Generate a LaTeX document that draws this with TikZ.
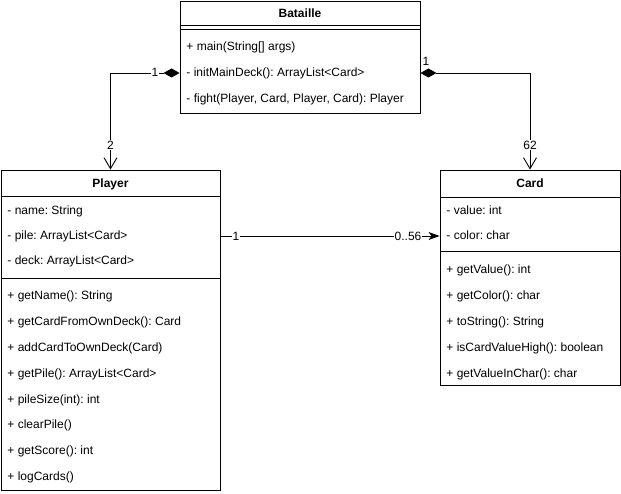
\documentclass[tikz,border=0pt]{standalone}
\usepackage{fontspec}
\setmainfont{Liberation Sans}
\usetikzlibrary{arrows.meta}
\frenchspacing
\begin{document}
\begin{tikzpicture}[x=1pt,y=-1pt,line width=0.9pt,
  box/.style={draw,fill=white,inner sep=0pt},
  txt/.style={anchor=base west,inner sep=0pt,font=\fontsize{12}{14}\selectfont},
  ttl/.style={anchor=base,inner sep=0pt,font=\fontsize{12}{14}\selectfont\bfseries},
  lbl/.style={inner sep=1pt,fill=white,font=\fontsize{12}{14}\selectfont},
  comp/.style={{Diamond[length=16pt,width=9pt]}-{Straight Barb[length=11pt,width=13pt]}},
  assoc/.style={-{Stealth[length=11pt,width=8pt,inset=3pt]}}]
\useasboundingbox (0,0) rectangle (621,494);
% Bataille
\node[box,minimum width=240pt,minimum height=112pt] (bat) at (300,57) {};
\node[ttl] (batT) at (300,17.5) {Bataille};
\draw (bat.west |- 0,25) -- (bat.east |- 0,25);
\draw (bat.west |- 0,29) -- (bat.east |- 0,29);
\node[txt] (b1) at (186,51) {+ main(String[] args)};
\node[txt] (b2) at (186,77) {- initMainDeck(): ArrayList<Card>};
\node[txt] (b3) at (186,103) {- fight(Player, Card, Player, Card): Player};
% Player
\node[box,minimum width=219pt,minimum height=320pt] (pl) at (110.5,330) {};
\node[ttl] (plT) at (110.5,188) {Player};
\draw (pl.west |- 0,196) -- (pl.east |- 0,196);
\draw (pl.west |- 0,278) -- (pl.east |- 0,278);
\node[txt] (p1) at (7,215) {- name: String};
\node[txt] (p2) at (7,240) {- pile: ArrayList<Card>};
\node[txt] (p3) at (7,265) {- deck: ArrayList<Card>};
\node[txt] (p4) at (7,300) {+ getName(): String};
\node[txt] (p5) at (7,326) {+ getCardFromOwnDeck(): Card};
\node[txt] (p6) at (7,351) {+ addCardToOwnDeck(Card)};
\node[txt] (p7) at (7,377) {+ getPile(): ArrayList<Card>};
\node[txt] (p8) at (7,403) {+ pileSize(int): int};
\node[txt] (p9) at (7,428) {+ clearPile()};
\node[txt] (p10) at (7,454) {+ getScore(): int};
\node[txt] (p11) at (7,480) {+ logCards()};
% Card
\node[box,minimum width=180pt,minimum height=215pt] (cd) at (530,277.5) {};
\node[ttl] (cdT) at (530,188) {Card};
\draw (cd.west |- 0,197) -- (cd.east |- 0,197);
\draw (cd.west |- 0,251) -- (cd.east |- 0,251);
\node[txt] (c1) at (446,215) {- value: int};
\node[txt] (c2) at (446,240) {- color: char};
\node[txt] (c3) at (446,274) {+ getValue(): int};
\node[txt] (c4) at (446,300) {+ getColor(): char};
\node[txt] (c5) at (446,326) {+ toString(): String};
\node[txt] (c6) at (446,351) {+ isCardValueHigh(): boolean};
\node[txt] (c7) at (446,377) {+ getValueInChar(): char};
% connectors
\draw[comp] (bat.west |- 0,73) -| (pl.north);
\draw[comp] (bat.east |- 0,73) -| (cd.north);
\draw[assoc] (pl.east |- 0,236) -- (cd.west |- 0,236);
% labels
\node[lbl] (l1) at (155,72) {1};
\node[lbl] (l2) at (110.5,145) {2};
\node[lbl,fill=none] (l3) at (426,61) {1};
\node[lbl] (l4) at (530,145) {62};
\node[lbl] (l5) at (236,236) {1};
\node[lbl] (l6) at (408,236) {0..56};
\end{tikzpicture}
\end{document}
